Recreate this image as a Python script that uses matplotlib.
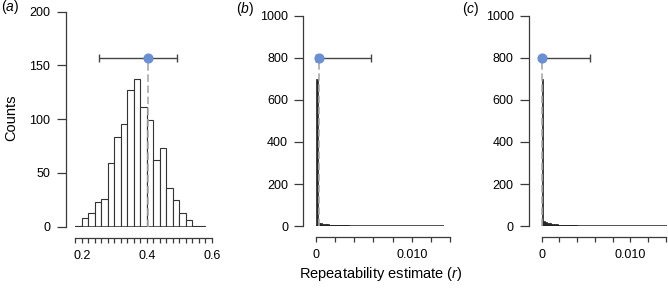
"""Bootstrap distributions of repeatability estimates, three panels."""

import matplotlib

matplotlib.use("Agg")
import matplotlib.pyplot as plt
import numpy as np

plt.rcParams["font.family"] = ["Liberation Sans", "DejaVu Sans"]
plt.rcParams["mathtext.fontset"] = "custom"
plt.rcParams["mathtext.rm"] = "Liberation Sans"
plt.rcParams["mathtext.it"] = "Liberation Sans:italic"

# panel (a): counts per 0.02 bin starting at 0.18
a_bin_start = 0.18
a_bin_width = 0.02
a_counts = [1, 8, 13, 23, 26, 59, 83, 96, 127, 137, 111, 99, 62, 73, 36, 25, 13, 6, 1, 1]
a_estimate = 0.403
a_ci = (0.253, 0.494)
a_marker_y = 157

# panels (b) and (c): counts per 0.0002 bin starting at 0
bc_bin_width = 0.0002
b_counts = [
    700, 17, 14, 12, 11, 10, 9, 8, 7, 7, 6, 6, 5, 5, 4, 4, 4, 3, 3, 3, 3,
    2, 2, 3, 2, 2, 2, 1, 2, 1, 1, 1, 1, 1, 1, 1, 0, 1, 1, 0, 1,
    1, 0, 1, 1, 0, 1, 0, 0, 1, 0, 1, 0, 0, 0, 1, 0, 0, 1, 0, 0,
    0, 1, 0, 0, 0, 1,
]
b_estimate = 0.0003
b_ci = (0.0, 0.0057)
b_marker_y = 800

c_counts = [
    698, 27, 22, 17, 15, 13, 11, 10, 9, 8, 7, 7, 6, 6, 5, 5, 5, 4, 4, 4,
    3, 3, 3, 3, 3, 2, 2, 2, 2, 2, 2, 1, 2, 1, 1, 1, 1, 1, 1, 1, 0,
    1, 1, 0, 1, 0, 1, 0, 1, 0, 0, 1, 0, 1, 0, 0, 1, 0, 0, 1, 0,
    0, 1, 0, 0, 0, 1, 0, 1, 0, 1,
]
c_estimate = 0.0
c_ci = (0.0, 0.0054)
c_marker_y = 800

FIG_W, FIG_H = 668, 288
POINT_COLOR = "#6a8fd3"
LINE_COLOR = "#3a3a3a"


def px_axes(fig, left, right, top, bottom):
    return fig.add_axes(
        [left / FIG_W, (FIG_H - bottom) / FIG_H, (right - left) / FIG_W, (bottom - top) / FIG_H]
    )


def style_axis(ax, xlim, ylim, yticks, xmajor, xlabels, xminor, xbounds):
    ax.set_xlim(*xlim)
    ax.set_ylim(*ylim)
    for side in ("top", "right"):
        ax.spines[side].set_visible(False)
    ax.spines["left"].set_bounds(ylim[0], ylim[1])
    ax.spines["bottom"].set_position(("outward", 8))
    ax.spines["bottom"].set_bounds(*xbounds)
    for side in ("left", "bottom"):
        ax.spines[side].set_color(LINE_COLOR)
        ax.spines[side].set_linewidth(0.9)
    ax.set_yticks(yticks)
    ax.set_yticklabels([str(t) for t in yticks])
    ax.set_xticks(xmajor)
    ax.set_xticklabels(xlabels)
    ax.set_xticks(xminor, minor=True)
    ax.tick_params(axis="y", length=6.5, width=0.9, pad=4.5, labelsize=9, color=LINE_COLOR)
    ax.tick_params(axis="x", which="both", length=3.6, width=0.9, pad=5, labelsize=9, color=LINE_COLOR)
    ax.patch.set_visible(False)


def draw_hist(ax, edges, counts, width, face, edge_color, lw):
    ax.bar(edges, counts, width=width, align="edge", facecolor=face,
           edgecolor=edge_color, linewidth=lw, zorder=2)
    # R draws the border of every bin, so empty bins still leave a baseline
    ax.hlines(0, edges[0], edges[-1] + width, color=edge_color, linewidth=1.1, zorder=2.5)


def draw_estimate(ax, estimate, ci, y):
    ax.plot([estimate, estimate], [0, y], linestyle=(0, (4.5, 2.2)), color="#aaaaaa",
            linewidth=1.2, zorder=3, clip_on=False)
    ax.errorbar(
        [estimate], [y],
        xerr=[[estimate - ci[0]], [ci[1] - estimate]],
        fmt="none", ecolor="#454545", elinewidth=1.0, capsize=3, capthick=1.0,
        zorder=4, clip_on=False,
    )
    ax.plot([estimate], [y], "o", color=POINT_COLOR, markersize=6.3, zorder=5, clip_on=False)


fig = plt.figure(figsize=(FIG_W / 100, FIG_H / 100), dpi=100)

# (a)
ax_a = px_axes(fig, 65.7, 213.3, 11.7, 226.7)
a_edges = a_bin_start + a_bin_width * np.arange(len(a_counts))
draw_hist(ax_a, a_edges, a_counts, a_bin_width, "white", "#333333", 0.8)
draw_estimate(ax_a, a_estimate, a_ci, a_marker_y)
style_axis(
    ax_a, (0.15077, 0.60492), (0, 200), [0, 50, 100, 150, 200],
    [0.2, 0.4, 0.6], ["0.2", "0.4", "0.6"],
    np.arange(0.18, 0.6001, 0.02), (0.18, 0.6),
)

# (b) and (c): bins are so narrow that their borders merge into solid bars
for left, right, x_left, x_right, counts, est, ci, my in [
    (303.3, 452.0, -0.001327, 0.014211, b_counts, b_estimate, b_ci, b_marker_y),
    (529.0, 667.0, -0.001434, 0.014147, c_counts, c_estimate, c_ci, c_marker_y),
]:
    ax = px_axes(fig, left, right, 15.5, 226.3)
    edges = bc_bin_width * np.arange(len(counts))
    draw_hist(ax, edges, counts, bc_bin_width, "#2a2a2a", "#222222", 0.5)
    draw_estimate(ax, est, ci, my)
    style_axis(
        ax, (x_left, x_right), (0, 1000), [0, 200, 400, 600, 800, 1000],
        [0.0, 0.01], ["0", "0.010"],
        np.arange(0.0, 0.01401, 0.002), (0.0, 0.014),
    )

# panel letters and shared labels
fig.text(1 / FIG_W, 1 - 7.5 / FIG_H, "($a$)", fontsize=10, ha="left", va="center")
fig.text(236 / FIG_W, 1 - 8.5 / FIG_H, "($b$)", fontsize=10, ha="left", va="center")
fig.text(462 / FIG_W, 1 - 8.5 / FIG_H, "($c$)", fontsize=10, ha="left", va="center")
fig.text(11.5 / FIG_W, 1 - 118 / FIG_H, "Counts", fontsize=10.5, rotation=90,
         ha="center", va="center")
fig.text(380.4 / FIG_W, 1 - 274 / FIG_H, "Repeatability estimate ($r$)", fontsize=10.5,
         ha="center", va="center")

fig.savefig("out.png", dpi=100)
plt.close(fig)
